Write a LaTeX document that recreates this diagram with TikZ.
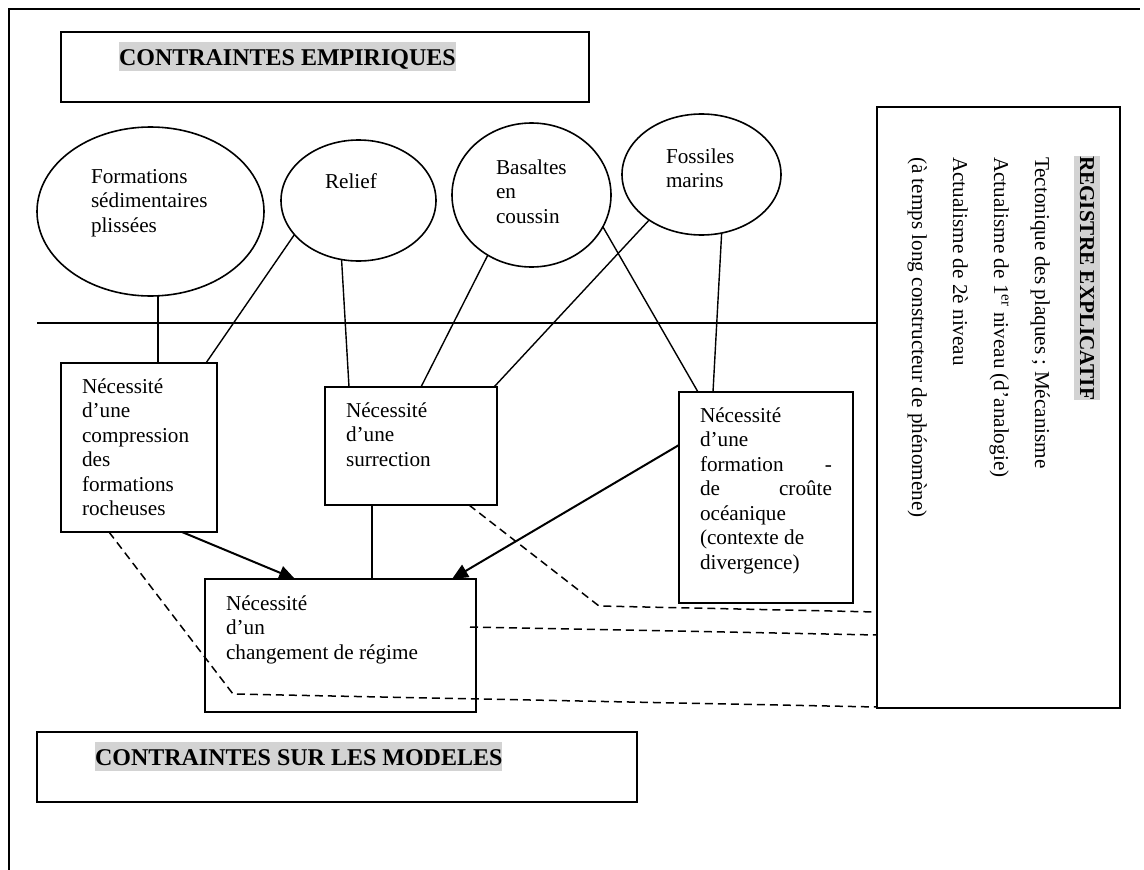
\documentclass[tikz,border=0pt]{standalone}
\usepackage{fontspec}
\setmainfont{Liberation Serif}
\usetikzlibrary{shapes.geometric,arrows.meta,calc}
\definecolor{hl}{RGB}{211,211,211}
\newcommand\bodyfont{\fontsize{21.2}{24.5}\selectfont}
\newcommand\lines[2][300pt]{\parbox[t]{#1}{#2}}
\begin{document}
\begin{tikzpicture}[x=1pt,y=-1pt,
  box/.style={draw,line width=1.5pt,rectangle,inner sep=0pt,outer sep=0pt},
  oval/.style={draw,line width=1.6pt,ellipse,inner sep=0pt,outer sep=0pt},
  txt/.style={inner sep=0pt,outer sep=0pt,anchor=base west,font=\bodyfont},
  link/.style={line width=1.4pt},
  arr/.style={line width=2pt,-{Triangle[length=16pt,width=14pt]}},
  dsh/.style={line width=1.5pt,dash pattern=on 8pt off 5pt},
  hlt/.style={fill=hl,inner sep=0pt,outer sep=0pt,font=\bfseries\fontsize{24}{28}\selectfont,text height=23pt,text depth=6pt,anchor=base west}
]
\useasboundingbox (0,0) rectangle (1144,870);
% outer frame
\coordinate (fa) at (9,870);
\coordinate (fb) at (9,9);
\coordinate (fc) at (1140,9);
\draw[line width=2.2pt] (fa) -- (fb) -- (fc);

% title boxes
\node[box,minimum width=528pt,minimum height=70pt] (top) at (325,67) {};
\node[hlt] (toptxt) at (119,65) {CONTRAINTES EMPIRIQUES};
\node[box,minimum width=600pt,minimum height=70pt] (bot) at (337,767) {};
\node[hlt] (bottxt) at (95,765) {CONTRAINTES SUR LES MODELES};

% ellipses
\node[oval,minimum width=227pt,minimum height=169pt] (e1) at (150.5,211.5) {};
\node[oval,minimum width=155pt,minimum height=121pt] (rel) at (358.5,200.5) {};
\node[oval,minimum width=159pt,minimum height=144pt] (bas) at (531.5,195) {};
\node[oval,minimum width=159pt,minimum height=121pt] (fos) at (701.5,174.5) {};
\node[txt] (e1t) at (91,183) {\lines{Formations\\sédimentaires\\plissées}};
\node[txt] (relt) at (325,188) {Relief};
\node[txt] (bast) at (496,174) {\lines{Basaltes\\en\\coussin}};
\node[txt] (fost) at (666,163) {\lines{Fossiles\\marins}};

% boxes
\node[box,minimum width=156pt,minimum height=169pt] (cmp) at (139,447.5) {};
\node[box,minimum width=172pt,minimum height=118pt] (sur) at (411,446) {};
\node[box,minimum width=174pt,minimum height=211pt] (frm) at (766,497.5) {};
\node[box,minimum width=271pt,minimum height=133pt] (reg) at (340.5,645.5) {};
\node[box,minimum width=243pt,minimum height=601pt] (rx) at (998.5,407.5) {};

\node[txt] (cmpt) at (82,393) {\lines{Nécessité\\d’une\\compression\\des\\formations\\rocheuses}};
\node[txt] (surt) at (346,417) {\lines{Nécessité\\d’une\\surrection}};
\node[txt] (frmt) at (700,422) {\lines[132pt]{Nécessité\\d’une\\formation\hfill-\\de\hfill croûte\\océanique\\(contexte de\\divergence)}};
\node[txt] (regt) at (226,610) {\lines{Nécessité\\d’un\\changement de régime}};

% registre explicatif
\node[fill=hl,inner sep=0pt,outer sep=0pt,rotate=-90,anchor=base west,font=\bfseries\fontsize{21.2}{24}\selectfont,text height=20pt,text depth=6pt] (rxt) at (1080,156) {REGISTRE EXPLICATIF};
\node[txt,rotate=-90] (rx1) at (1035,157) {Tectonique des plaques ; Mécanisme};
\node[txt,rotate=-90] (rx2) at (994,157) {Actualisme de 1\textsuperscript{er} niveau (d’analogie)};
\node[txt,rotate=-90] (rx3) at (953,157) {Actualisme de 2è niveau};
\node[txt,rotate=-90] (rx4) at (912,157) {(à temps long constructeur de phénomène)};

% horizontal separator
\coordinate (h0) at (37,323);
\draw[line width=1.5pt] (h0) -- (h0 -| rx.west);

% connectors
\draw[link] (e1.-85) -- (e1.-85 |- cmp.north);
\draw[link] (rel.208) -- ([xshift=-11pt]cmp.north east);
\draw[link] (rel.254) -- ([xshift=24pt]sur.north west);
\draw[link] (bas.234) -- ([xshift=96pt]sur.north west);
\draw[link] (fos.221) -- ([xshift=-3pt]sur.north east);
\draw[link] (bas.-24) -- ([xshift=19pt]frm.north west);
\draw[link] (fos.-71) -- ([xshift=34pt]frm.north west);
\coordinate (s1) at ([xshift=47pt]sur.south west);
\draw[link] (s1) -- (s1 |- reg.north);

% arrows
\draw[arr] ([xshift=-35pt]cmp.south east) -- ([xshift=90pt]reg.north west);
\draw[arr] ([yshift=52.5pt]frm.west) -- ([xshift=-24pt]reg.north east);

% dashed
\coordinate (c1) at (233,694);
\draw[dsh] ([xshift=48pt]cmp.south west) -- (c1) -- ([yshift=1pt]rx.south west);
\coordinate (c2) at (599,606);
\draw[dsh] ([xshift=-28pt]sur.south east) -- (c2) -- ([yshift=96pt]rx.south west);
\draw[dsh] ([xshift=-6pt,yshift=18.5pt]reg.east) -- ([yshift=73pt]rx.south west);
\end{tikzpicture}
\end{document}
